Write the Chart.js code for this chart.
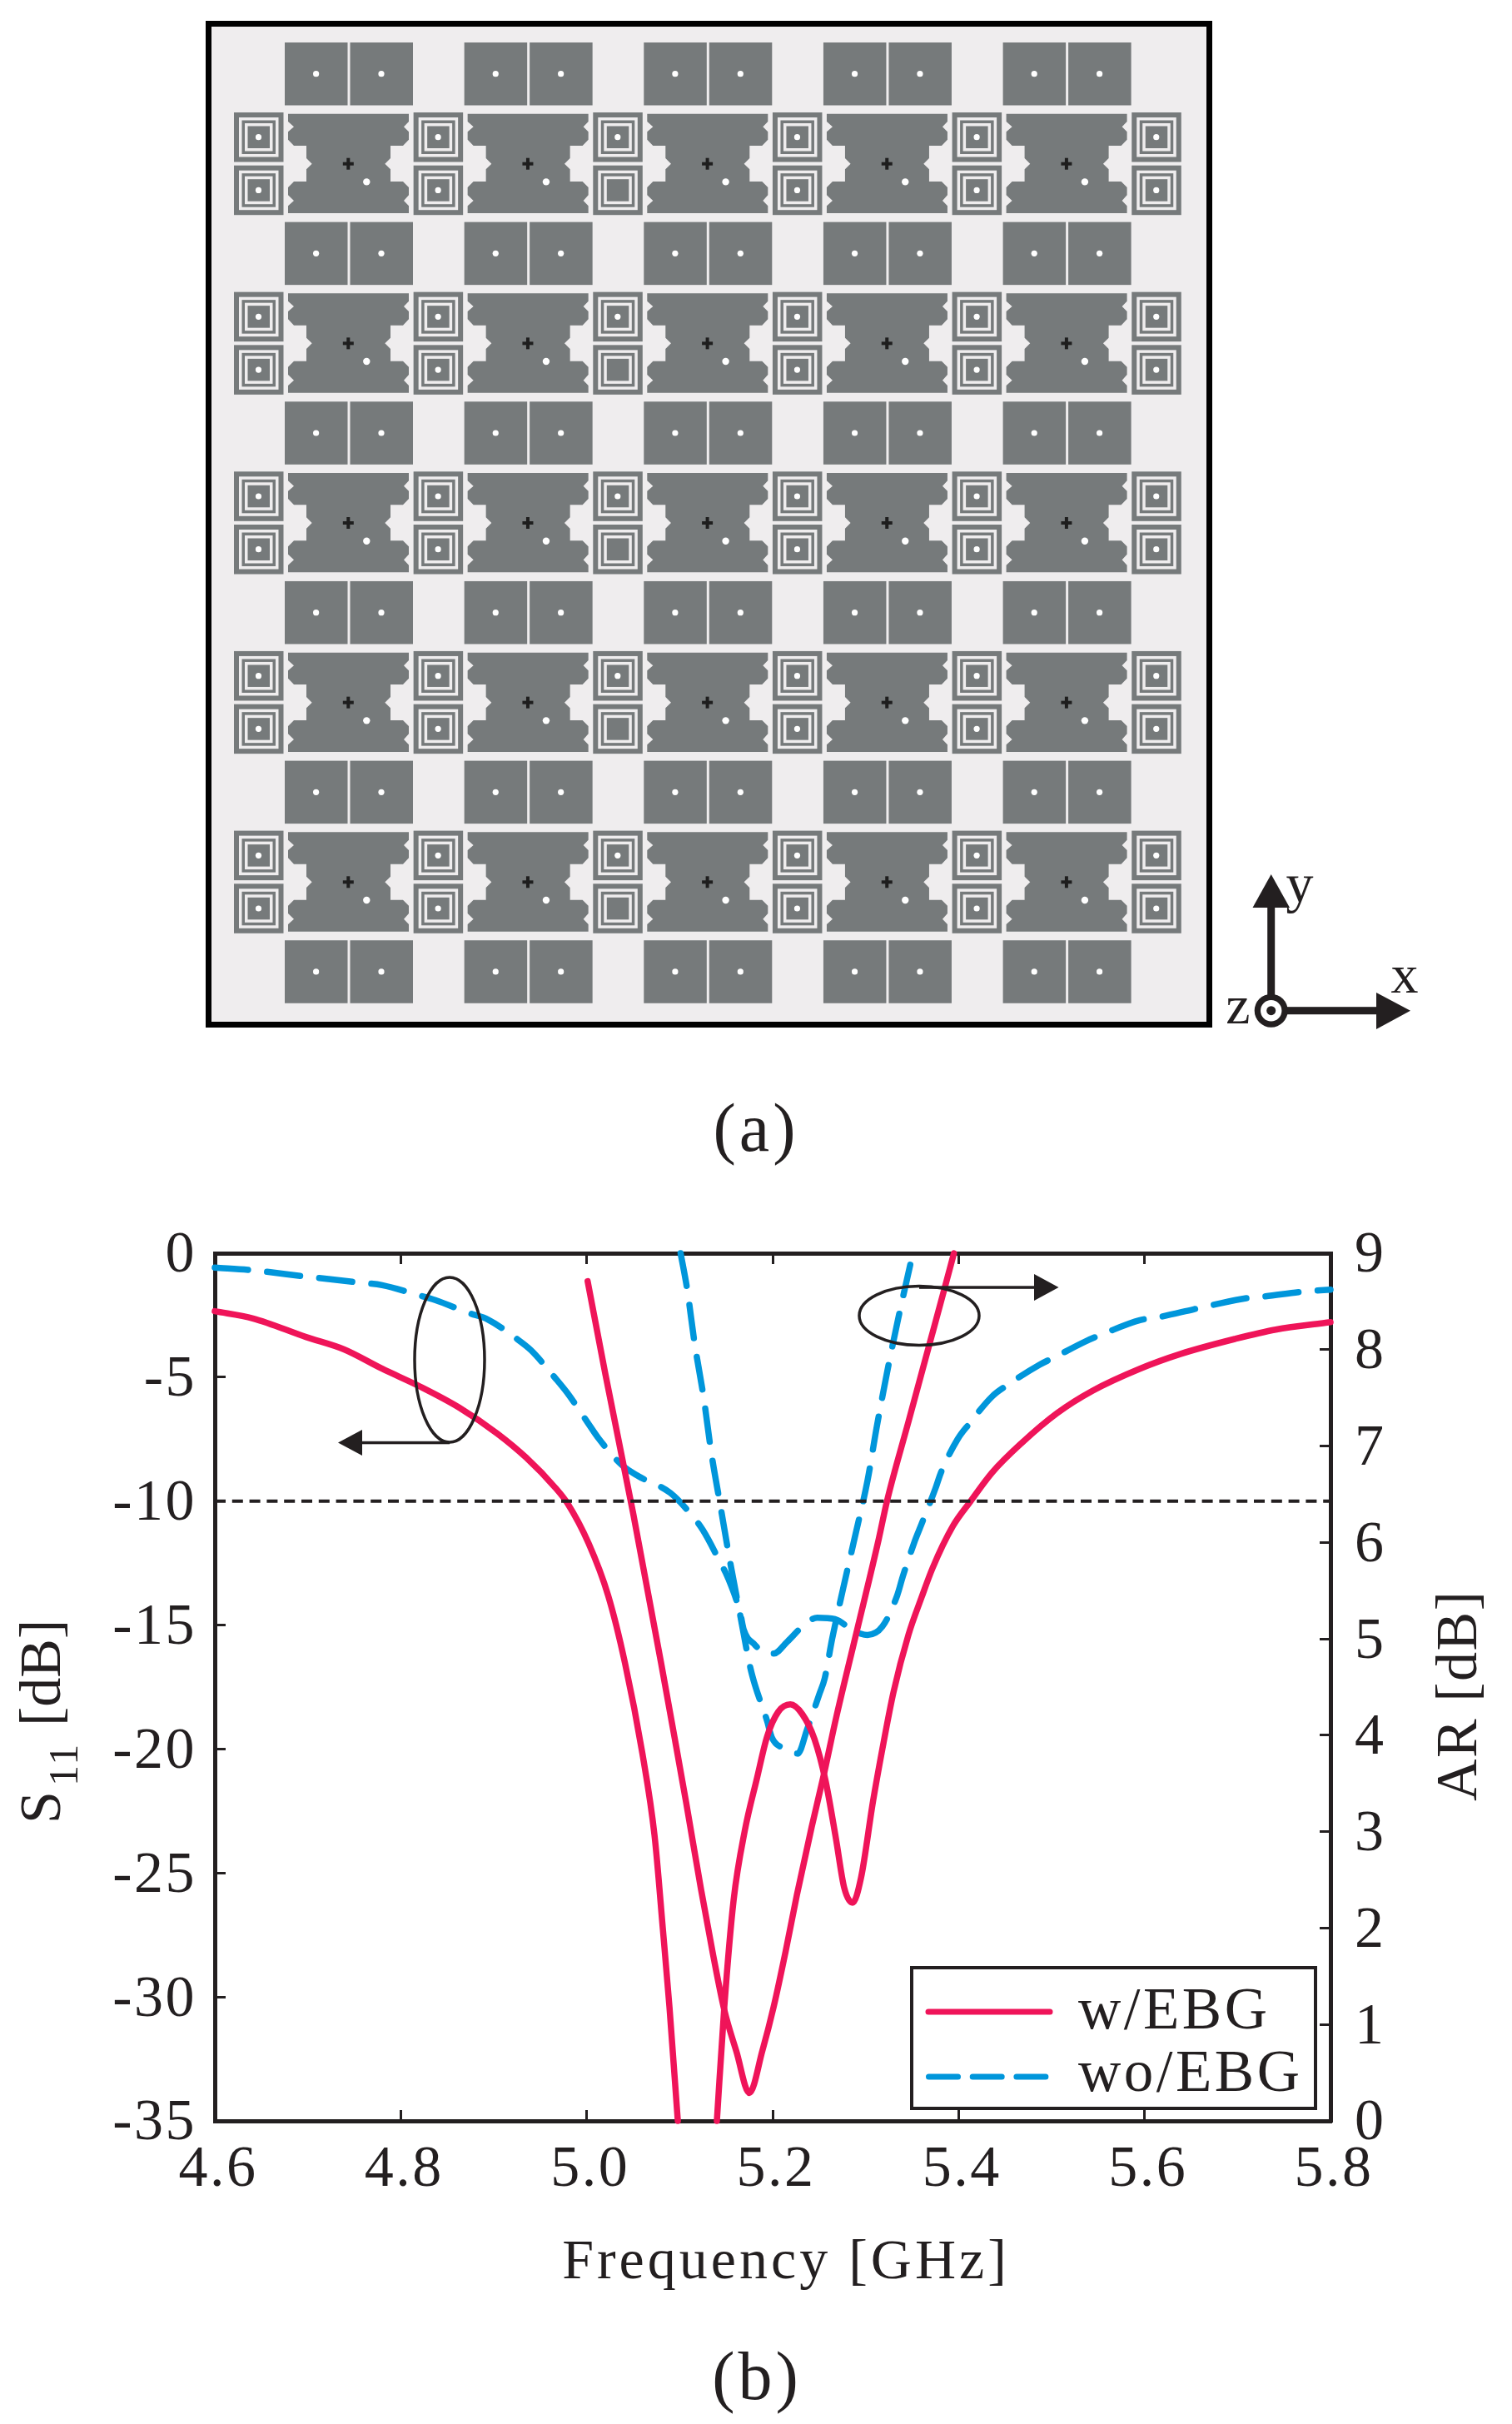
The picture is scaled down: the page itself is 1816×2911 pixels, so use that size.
<!DOCTYPE html>
<html>
<head>
<meta charset="utf-8">
<style>html,body{margin:0;padding:0;background:#fff}canvas{display:block}</style>
<script src="https://cdn.jsdelivr.net/npm/chart.js@4/dist/chart.umd.min.js"></script>
</head>
<body>
<canvas id="c" width="1816" height="2911"></canvas>
<script>
// ---------- data ----------
const s11WithFreq = [4.6,4.641,4.698,4.739,4.78,4.822,4.863,4.904,4.935,4.966,4.979,5.002,5.023,5.041,5.06,5.073,5.082,5.089,5.098,5.12,5.14,5.148,5.158,5.17,5.183,5.194,5.206,5.219,5.232,5.245,5.257,5.268,5.277,5.286,5.295,5.308,5.318,5.33,5.346,5.36,5.372,5.394,5.413,5.436,5.468,5.506,5.544,5.595,5.639,5.697,5.741,5.8];
const s11With = [-2.34,-2.63,-3.38,-3.88,-4.66,-5.4,-6.23,-7.28,-8.25,-9.45,-10.07,-11.7,-13.8,-16.5,-20.2,-23.5,-27.3,-30.4,-35,null,-35,-30.4,-26.1,-23.3,-21.2,-19.5,-18.5,-18.2,-18.6,-19.6,-21.3,-23.6,-25.6,-26.2,-25.2,-22.1,-20,-17.7,-15.4,-13.9,-12.7,-11,-10,-8.85,-7.65,-6.45,-5.55,-4.66,-4.06,-3.46,-3.08,-2.78];

const s11WithoutFreq = [4.6,4.641,4.698,4.755,4.78,4.816,4.837,4.873,4.894,4.925,4.94,4.966,4.979,5.001,5.012,5.038,5.056,5.09,5.113,5.125,5.144,5.152,5.165,5.169,5.181,5.19,5.201,5.216,5.232,5.248,5.267,5.286,5.302,5.318,5.334,5.34,5.353,5.36,5.375,5.381,5.399,5.411,5.436,5.452,5.487,5.503,5.538,5.557,5.595,5.614,5.653,5.672,5.71,5.73,5.768,5.8];
const s11Without = [-0.58,-0.69,-0.94,-1.18,-1.29,-1.66,-1.89,-2.41,-2.68,-3.46,-3.91,-5.03,-5.63,-6.83,-7.43,-8.55,-9.0,-9.67,-10.57,-11.17,-12.5,-13.1,-14.5,-15.2,-15.8,-16.1,-16.15,-15.66,-15.06,-14.7,-14.76,-15.2,-15.4,-15.06,-13.8,-13.04,-11.6,-10.94,-9.5,-8.85,-7.5,-6.9,-5.78,-5.33,-4.5,-4.2,-3.53,-3.23,-2.7,-2.59,-2.26,-2.1,-1.81,-1.74,-1.56,-1.47];

const arWithFreq = [5.001,5.02,5.05,5.08,5.095,5.107,5.123,5.136,5.148,5.161,5.175,5.189,5.201,5.214,5.226,5.242,5.255,5.268,5.289,5.314,5.323,5.346,5.371,5.385,5.395];
const arWith = [8.71,7.75,6.3,4.75,3.95,3.3,2.4,1.72,1.15,0.72,0.29,0.73,1.18,1.76,2.34,3.05,3.59,4.17,5.02,6.03,6.43,7.25,8.14,8.64,9.0];

const arWithoutFreq = [5.101,5.108,5.116,5.126,5.134,5.144,5.154,5.165,5.176,5.181,5.194,5.199,5.213,5.227,5.237,5.25,5.256,5.264,5.276,5.289,5.302,5.312,5.323,5.335,5.348];
const arWithout = [9.0,8.63,8.07,7.49,6.93,6.37,5.81,5.25,4.7,4.52,4.15,3.98,3.86,3.81,4.06,4.42,4.59,5.0,5.53,6.08,6.64,7.2,7.76,8.32,8.88];

const thresholdFreq = [4.6,5.8];
const thresholdDb = [-10,-10];

const freqTicks = [4.6,4.8,5.0,5.2,5.4,5.6,5.8];
const seriesNames = ['w/EBG','wo/EBG'];
const xTitle = 'Frequency [GHz]';

// ---------- styling ----------
const RED='#EF1459', BLUE='#0096DB', INK='#231F20', GREY='#767A7B', PANEL='#EFEDEE';
const SERIF='"Liberation Serif"';
const zip=(a,b)=>a.map((x,i)=>({x,y:b[i]}));
const DASH=[40,23];

function txt(ctx,s,x,y,size,ls,align,rot){
  ctx.save();
  ctx.translate(x,y);
  if(rot)ctx.rotate(rot);
  ctx.font=size+'px '+SERIF;
  ctx.letterSpacing=(ls||0)+'px';
  ctx.fillStyle=INK;
  ctx.textAlign=align||'left';
  ctx.textBaseline='alphabetic';
  ctx.fillText(s,0,0);
  ctx.restore();
}
function tri(ctx,a,b,c){ctx.fillStyle=INK;ctx.beginPath();ctx.moveTo(a[0],a[1]);ctx.lineTo(b[0],b[1]);ctx.lineTo(c[0],c[1]);ctx.closePath();ctx.fill();}

// ---------- panel (a): the array layout ----------
const PITCH=215.65;
const patchOutline=[[318,350],[753,350],[753,378],[735,397],[753,415],[753,443],[732,465],[687,465],[687,510],[667,530],[687,550],[687,594],[732,594],[753,615],[753,643],[735,663],[753,682],[753,708],[318,708],[318,682],[339,663],[318,643],[318,615],[339,594],[384,594],[384,550],[404,530],[384,510],[384,465],[339,465],[318,443],[318,415],[339,397],[318,378]];
function dot(ctx,x,y,r){ctx.fillStyle='#fff';ctx.beginPath();ctx.arc(x,y,r,0,Math.PI*2);ctx.fill();}
function ebg(ctx,x,y,via){
  const s=[[0,59.5,GREY],[6,47.5,PANEL],[9.5,40.5,GREY],[13,33.5,PANEL],[16.5,26.5,GREY]];
  for(const [o,w,c] of s){ctx.fillStyle=c;ctx.fillRect(x+o,y+o,w,w);}
  if(via)dot(ctx,x+29.5,y+29.7,3.6);
}
function drawPanel(ctx){
  ctx.fillStyle=PANEL;ctx.fillRect(250.5,28.5,1202,1202);
  ctx.strokeStyle='#000';ctx.lineWidth=7;ctx.strokeRect(250.5,28.5,1202,1202);
  // split patches
  for(let r=0;r<6;r++)for(let c=0;c<5;c++){
    const x=342+c*PITCH,y=51+r*PITCH;
    ctx.fillStyle=GREY;ctx.fillRect(x,y,75.5,75.5);ctx.fillRect(x+78.5,y,75.5,75.5);
    dot(ctx,x+37.6,y+37.7,3.6);dot(ctx,x+116,y+37.7,3.6);
  }
  // main patches
  for(let r=0;r<5;r++)for(let c=0;c<5;c++){
    const x=346+c*PITCH,y=136.7+r*PITCH;
    ctx.fillStyle=GREY;ctx.beginPath();
    patchOutline.forEach((p,i)=>{const px=x+(p[0]-318)/3,py=y+(p[1]-350)/3;i?ctx.lineTo(px,py):ctx.moveTo(px,py);});
    ctx.closePath();ctx.fill();
    dot(ctx,x+94.3,y+81.7,4.2);
    ctx.fillStyle='#1E1E1E';ctx.fillRect(x+65.8,y+58,13,4);ctx.fillRect(x+70.3,y+53,4,14);
  }
  // EBG cells
  for(let r=0;r<5;r++)for(let c=0;c<6;c++){
    const x=281+c*PITCH,y=135+r*PITCH;
    ebg(ctx,x,y,true);
    ebg(ctx,x,y+63.7,c!==2);
  }
  // coordinate triad
  ctx.fillStyle=INK;
  ctx.fillRect(1522.2,1085,9,115);
  ctx.fillRect(1530,1209.2,125,9);
  tri(ctx,[1526.7,1050],[1504.5,1090],[1549,1090]);
  tri(ctx,[1694,1213.7],[1653,1192],[1653,1236]);
  ctx.fillStyle=INK;ctx.beginPath();ctx.arc(1526.7,1213.7,20,0,Math.PI*2);ctx.fill();
  ctx.fillStyle='#fff';ctx.beginPath();ctx.arc(1526.7,1213.7,12.7,0,Math.PI*2);ctx.fill();
  ctx.fillStyle=INK;ctx.beginPath();ctx.arc(1526.7,1213.7,5.5,0,Math.PI*2);ctx.fill();
  txt(ctx,'y',1561,1083,66,0,'center');
  txt(ctx,'x',1687,1191.5,66,0,'center');
  txt(ctx,'z',1487,1229,66,0,'center');
  txt(ctx,'(a)',908,1382,82,4,'center');
}

// ---------- panel (b): annotations and legend ----------
function ellipse(ctx,x,y,rx,ry){ctx.strokeStyle=INK;ctx.lineWidth=3.5;ctx.beginPath();ctx.ellipse(x,y,rx,ry,0,0,Math.PI*2);ctx.stroke();}
function drawAnnotations(ctx){
  ellipse(ctx,540,1633,42,99);
  ctx.fillStyle=INK;ctx.fillRect(434,1730.8,106,3.5);
  tri(ctx,[406,1732.5],[435,1717],[435,1748]);
  ellipse(ctx,1104,1580,72,35.5);
  ctx.fillStyle=INK;ctx.fillRect(1104,1544.3,139,3.5);
  tri(ctx,[1271.5,1546],[1242,1530],[1242,1562]);
}
function drawLegend(ctx){
  ctx.fillStyle='#fff';ctx.fillRect(1095,2363,485,169);
  ctx.strokeStyle=INK;ctx.lineWidth=4;ctx.strokeRect(1095,2363,485,169);
  ctx.lineCap='round';ctx.lineWidth=7;
  ctx.strokeStyle=RED;ctx.setLineDash([]);ctx.beginPath();ctx.moveTo(1115,2416);ctx.lineTo(1261,2416);ctx.stroke();
  ctx.strokeStyle=BLUE;ctx.setLineDash([35,17.7]);ctx.beginPath();ctx.moveTo(1115.5,2494);ctx.lineTo(1257,2494);ctx.stroke();
  ctx.setLineDash([]);ctx.lineCap='butt';
  txt(ctx,seriesNames[0],1295,2436,71,3.5,'left');
  txt(ctx,seriesNames[1],1295,2511,71,3.5,'left');
}
function drawTitles(ctx){
  const up=-Math.PI/2;
  txt(ctx,'S',72,2190,70,0,'left',up);
  txt(ctx,'11',93,2145,50,2,'left',up);
  txt(ctx,'[dB]',72,2073,70,0,'left',up);
  txt(ctx,'AR [dB]',1773,2163,70,1.5,'left',up);
  txt(ctx,xTitle,944,2736,68,4,'center');
  txt(ctx,'(b)',909,2881,82,4,'center');
}

const decor={
  id:'decor',
  beforeDraw(chart){
    const ctx=chart.ctx;
    ctx.save();ctx.fillStyle='#fff';ctx.fillRect(0,0,chart.width,chart.height);
    drawPanel(ctx);ctx.restore();
    ctx.letterSpacing='2.5px';
  },
  afterDraw(chart){
    const ctx=chart.ctx;
    ctx.letterSpacing='0px';
    ctx.save();drawAnnotations(ctx);drawLegend(ctx);drawTitles(ctx);ctx.restore();
  }
};

const tickFont={family:SERIF,size:70,lineHeight:1};
const grid={drawOnChartArea:false,drawTicks:true,tickLength:-13,tickWidth:3,tickColor:INK};
const border={display:true,width:5,color:INK};
const line=(label,freq,vals,color,axis,dash)=>({
  label,data:zip(freq,vals),yAxisID:axis,borderColor:color,borderWidth:7.5,
  borderDash:dash||[],borderCapStyle:'round',borderJoinStyle:'round',
  cubicInterpolationMode:'monotone',pointRadius:0,spanGaps:false,clip:false,fill:false
});

new Chart(document.getElementById('c').getContext('2d'),{
  type:'line',
  plugins:[decor],
  data:{datasets:[
    {label:'-10 dB',data:zip(thresholdFreq,thresholdDb),yAxisID:'y',borderColor:INK,borderWidth:4,borderDash:[13,7.8],pointRadius:0,tension:0,clip:false},
    line(seriesNames[0]+' S11',s11WithFreq,s11With,RED,'y'),
    line(seriesNames[0]+' AR',arWithFreq,arWith,RED,'y1'),
    line(seriesNames[1]+' S11',s11WithoutFreq,s11Without,BLUE,'y',DASH),
    line(seriesNames[1]+' AR',arWithoutFreq,arWithout,BLUE,'y1',DASH)
  ]},
  options:{
    responsive:false,animation:false,devicePixelRatio:1,
    layout:{padding:{top:1505,left:0,right:0,bottom:0}},
    plugins:{legend:{display:false},title:{display:false},tooltip:{enabled:false}},
    events:[],
    scales:{
      x:{type:'linear',position:'bottom',min:4.6,max:5.8,border,grid,
        afterFit(s){s.height=364;},
        afterBuildTicks(s){s.ticks=freqTicks.map(v=>({value:v}));},
        ticks:{font:tickFont,color:INK,padding:38,labelOffset:4,autoSkip:false,maxRotation:0,minRotation:0,callback:v=>v.toFixed(1)}},
      x1:{type:'linear',position:'top',min:4.6,max:5.8,border,grid,
        afterFit(s){s.height=0;},
        afterBuildTicks(s){s.ticks=freqTicks.map(v=>({value:v}));},
        ticks:{display:false}},
      y:{type:'linear',position:'left',min:-35,max:0,border,grid,
        afterFit(s){s.width=258;},
        ticks:{font:tickFont,color:INK,stepSize:5,padding:35,autoSkip:false,labelOffset:c=>c.tick&&(c.tick.value===0||c.tick.value===-35)?7:4}},
      y1:{type:'linear',position:'right',min:0,max:9,border,grid,
        afterFit(s){s.width=218;},
        ticks:{font:tickFont,color:INK,stepSize:1,padding:42,labelOffset:4,autoSkip:false}}
    }
  }
});
</script>
</body>
</html>
